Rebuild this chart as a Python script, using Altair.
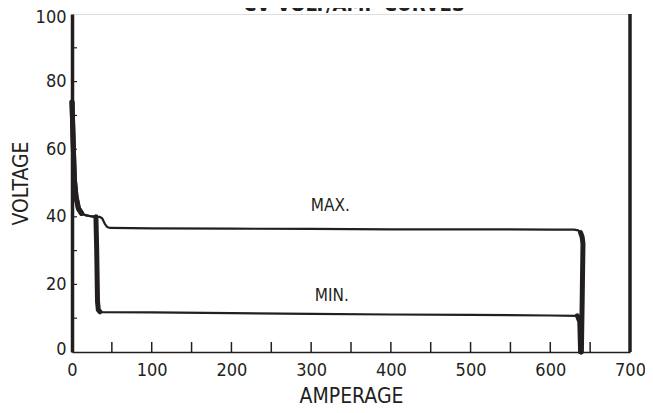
import altair as alt
import pandas as pd

# ---- data ----
max_amp = [0, 1, 2, 3, 5, 8, 12, 18, 25, 30, 35, 38, 41, 44, 48, 100, 200, 300, 400, 500, 600, 630, 635, 638, 640, 641, 640, 639]
max_volt = [74, 66, 58, 51, 46, 42.5, 41, 40.4, 40.1, 40, 40, 39.5, 38, 37, 36.7, 36.6, 36.5, 36.4, 36.3, 36.3, 36.2, 36.2, 36, 35.3, 34, 32, 15, 0]
min_amp = [0, 1, 2, 3, 5, 8, 12, 18, 25, 30, 31, 32, 33, 35, 38, 100, 200, 300, 400, 500, 600, 634, 637, 638]
min_volt = [74, 66, 58, 51, 46, 42.5, 41, 40.4, 40.1, 40, 30, 15, 12.5, 11.9, 11.8, 11.7, 11.5, 11.3, 11.1, 11.0, 10.8, 10.7, 9, 0]

label_text = ["MAX.", "MIN."]
label_amp = [324, 326]
label_volt = [43.2, 16.6]

x_minor_ticks = [50, 100, 150, 200, 250, 300, 350, 400, 450, 500, 550, 600, 650]
y_minor_ticks = [10, 20, 30, 40, 50, 60, 70, 80, 90]
x_labels = [0, 100, 200, 300, 400, 500, 600, 700]
y_labels = [0, 20, 40, 60, 80, 100]

title_text = "CV VOLT/AMP CURVES"

FONT = "DejaVu Sans Condensed, Roboto, sans-serif"
INK = "#231f20"
W, H = 558, 338

rows = []
for i, (a, v) in enumerate(zip(max_amp, max_volt)):
    part = "left" if a <= 12 and i < 10 else ("right" if i >= 23 else "mid")
    rows.append({"series": "MAX", "amp": a, "volt": v, "idx": i, "part": part})
for i, (a, v) in enumerate(zip(min_amp, min_volt)):
    if a <= 12 and i < 10:
        part = "left"
    elif 30 <= a <= 35:
        part = "drop"
    elif i >= 21:
        part = "right"
    else:
        part = "mid"
    rows.append({"series": "MIN", "amp": a, "volt": v, "idx": i, "part": part})
df = pd.DataFrame(rows)
df["seg"] = df["series"] + "_" + df["part"]
thick_df = df[df["part"] != "mid"]

xs = alt.Scale(domain=[0, 700], nice=False)
ys = alt.Scale(domain=[0, 100], nice=False)

x_enc = alt.X("amp:Q", scale=xs, axis=alt.Axis(
    values=x_labels, title="AMPERAGE", tickSize=0, labelPadding=9, grid=False,
    labelFlush=False,
    labelFont=FONT, labelFontSize=18, labelColor=INK, domainColor=INK, domainWidth=1.5,
    titleFont=FONT, titleFontSize=21, titleFontWeight="normal", titleColor=INK,
    titleY=44, titleBaseline="middle"))
y_enc = alt.Y("volt:Q", scale=ys, axis=alt.Axis(
    values=y_labels, title="VOLTAGE", tickSize=0, labelPadding=6, grid=False,
    labelFlush=True, labelFlushOffset=6,
    labelFont=FONT, labelFontSize=18, labelColor=INK, domainColor=INK, domainWidth=3.5,
    titleFont=FONT, titleFontSize=21, titleFontWeight="normal", titleColor=INK,
    titleX=-51, titleBaseline="middle"))

thin = alt.Chart(df).mark_line(color=INK, strokeWidth=2.2, strokeJoin="round").encode(
    x=x_enc, y=y_enc, detail="series:N", order="idx:Q")

thick = alt.Chart(thick_df).mark_line(color=INK, strokeWidth=5, strokeCap="round", strokeJoin="round").encode(
    x=alt.X("amp:Q", scale=xs), y=alt.Y("volt:Q", scale=ys), detail="seg:N", order="idx:Q")

lab_df = pd.DataFrame({"t": label_text, "amp": label_amp, "volt": label_volt})
labels = alt.Chart(lab_df).mark_text(font=FONT, fontSize=17, color=INK, baseline="middle", align="center").encode(
    x=alt.X("amp:Q", scale=xs), y=alt.Y("volt:Q", scale=ys), text="t:N")

xt = alt.Chart(pd.DataFrame({"amp": x_minor_ticks})).mark_rule(color=INK, strokeWidth=1.5).encode(
    x=alt.X("amp:Q", scale=xs), y=alt.value(H - 10), y2=alt.value(H))
yt = alt.Chart(pd.DataFrame({"volt": y_minor_ticks})).mark_rule(color=INK, strokeWidth=1.2).encode(
    y=alt.Y("volt:Q", scale=ys), x=alt.value(0), x2=alt.value(5))

right_border = alt.Chart(pd.DataFrame({"amp": [700]})).mark_rule(color=INK, strokeWidth=3.5).encode(
    x=alt.X("amp:Q", scale=xs), y=alt.value(0), y2=alt.value(H))

title = alt.Chart(pd.DataFrame({"t": [title_text]})).mark_text(
    font=FONT, fontSize=20, fontWeight="bold", color=INK, baseline="alphabetic", align="center").encode(
    x=alt.value(W / 2 + 3), y=alt.value(-3), text="t:N")

chart = alt.layer(thin, thick, xt, yt, right_border, labels, title).properties(
    width=W, height=H,
    autosize=alt.AutoSizeParams(type="none"),
    padding={"left": 64, "top": 6, "right": 15, "bottom": 61},
).configure_view(stroke=INK, strokeWidth=1.5).configure(background="white")

chart.save("out.html", embed_options={"renderer": "svg", "actions": False})
